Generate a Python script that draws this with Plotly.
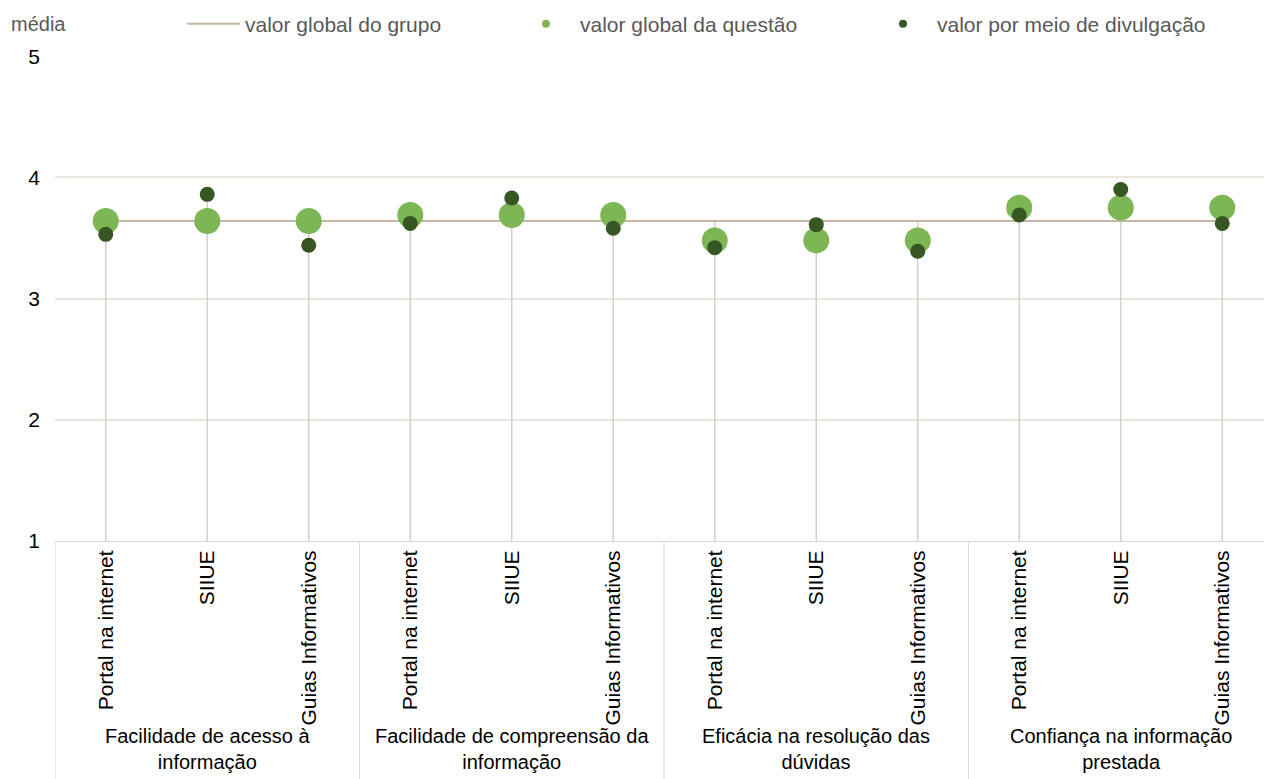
import plotly.graph_objects as go

# ---- data ----
group_labels = ["Facilidade de acesso à<br>informação",
                "Facilidade de compreensão da<br>informação",
                "Eficácia na resolução das<br>dúvidas",
                "Confiança na informação<br>prestada"]
channels = ["Portal na internet", "SIIUE", "Guias Informativos"]
group_value = 3.64                                   # valor global do grupo
question_values = [3.64, 3.69, 3.48, 3.75]           # valor global da questão
channel_values = [3.53, 3.86, 3.44,                  # valor por meio de divulgação
                  3.62, 3.83, 3.58,
                  3.42, 3.61, 3.39,
                  3.69, 3.90, 3.62]
y_ticks = [1, 2, 3, 4, 5]

# ---- derived ----
n_ch = len(channels)
n = len(channel_values)
xs = list(range(n))
tick_text = [channels[i % n_ch] for i in xs]
q_per_cat = [question_values[i // n_ch] for i in xs]
grp_per_cat = [group_value] * n

drop_x, drop_y = [], []
for i in xs:
    top = max(group_value, q_per_cat[i], channel_values[i])
    drop_x += [i, i, None]
    drop_y += [top, y_ticks[0], None]

FONT = "Arial, Liberation Sans, sans-serif"
FS = 21
LIGHT = "#7DB755"
DARK = "#375623"
GRPLINE = "#C4B8A1"
DROP = "#D8D0C4"

fig = go.Figure()

# drop lines
fig.add_trace(go.Scatter(x=drop_x, y=drop_y, mode="lines",
                         line=dict(color=DROP, width=1.5),
                         showlegend=False, hoverinfo="skip"))
# group line
fig.add_trace(go.Scatter(x=xs, y=grp_per_cat, mode="lines",
                         line=dict(color=GRPLINE, width=2),
                         name="valor global do grupo", legend="legend"))
# question values
fig.add_trace(go.Scatter(x=xs, y=q_per_cat, mode="markers",
                         marker=dict(color=LIGHT, size=26),
                         showlegend=False))
# channel values
fig.add_trace(go.Scatter(x=xs, y=channel_values, mode="markers",
                         marker=dict(color=DARK, size=15),
                         showlegend=False))
# legend-only entries
fig.add_trace(go.Scatter(x=[None], y=[None], mode="markers",
                         marker=dict(color=LIGHT, size=8),
                         name="valor global da questão", legend="legend2"))
fig.add_trace(go.Scatter(x=[None], y=[None], mode="markers",
                         marker=dict(color=DARK, size=8),
                         name="valor por meio de divulgação", legend="legend3"))

W, H = 1264, 779
L, R, T, B = 55, 0, 52, 238
plot_h = H - T - B
x_lo = -0.5
x_hi = x_lo + (W - L - R) / 101.5

# group dividers
for g in range(len(group_labels) + 1):
    xv = g * n_ch - 0.5
    fig.add_shape(type="line", xref="x", yref="paper", x0=xv, x1=xv,
                  y0=0, y1=-(B + 5) / plot_h, line=dict(color="#D9D9D9", width=1))

annotations = []
for g in range(len(group_labels)):
    cx = g * n_ch + (n_ch - 1) / 2
    annotations.append(dict(x=cx, xref="x", y=-(751 - (H - B)) / plot_h, yref="paper",
                            text=group_labels[g], showarrow=False,
                            xanchor="center", yanchor="middle", align="center",
                            font=dict(family=FONT, size=20, color="#000000")))
annotations.append(dict(x=-(L - 9) / (W - L - R), xref="paper",
                        y=((H - B) - 20) / plot_h, yref="paper",
                        text="média", showarrow=False, xanchor="left", yanchor="middle",
                        font=dict(family=FONT, size=20, color="#595959")))

legend_common = dict(orientation="h", xref="container", yref="container",
                     xanchor="left", yanchor="middle", y=1 - 24 / H,
                     bgcolor="rgba(0,0,0,0)", borderwidth=0,
                     font=dict(family=FONT, size=FS, color="#595959"))

fig.update_layout(
    width=W, height=H,
    margin=dict(l=L, r=R, t=T, b=B),
    paper_bgcolor="white", plot_bgcolor="white",
    font=dict(family=FONT, size=FS, color="#000000"),
    showlegend=True,
    legend=dict(**legend_common, x=182 / W, itemwidth=53),
    legend2=dict(**legend_common, x=512 / W, itemwidth=58),
    legend3=dict(**legend_common, x=869 / W, itemwidth=58),
    annotations=annotations,
    xaxis=dict(range=[x_lo, x_hi], tickmode="array", tickvals=xs, ticktext=tick_text,
               tickangle=-90, showgrid=False, zeroline=False,
               showline=True, linecolor="#D9D9D9", linewidth=1,
               ticks="", ticklabelstandoff=0,
               tickfont=dict(family=FONT, size=FS, color="#000000")),
    yaxis=dict(range=[y_ticks[0], y_ticks[-1]], tickmode="array", tickvals=y_ticks,
               showgrid=True, gridcolor="#EAE6DF", gridwidth=1.5, zeroline=False,
               showline=False, ticks="", ticklabelstandoff=14,
               tickfont=dict(family=FONT, size=FS, color="#000000")),
)

fig.write_html("out.html")
